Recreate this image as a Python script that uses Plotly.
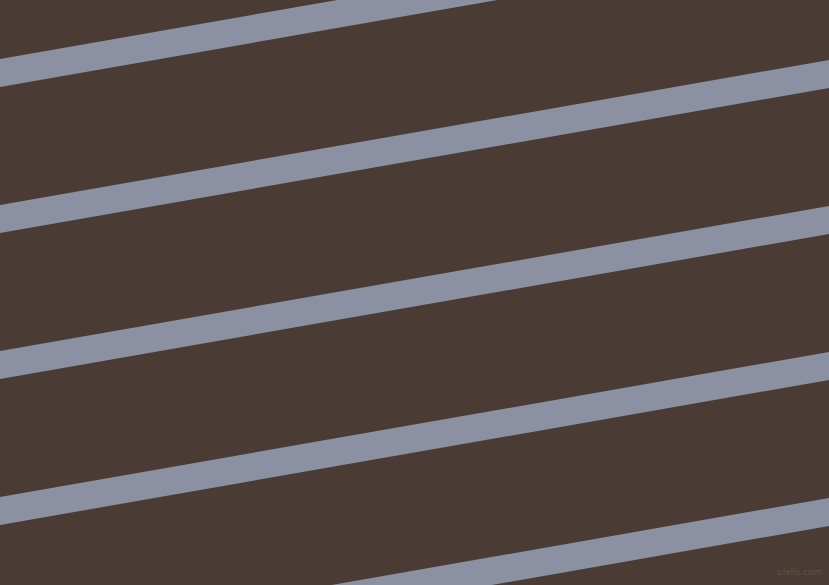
import plotly.graph_objects as go

W, H = 829, 585

# stripe centre heights where each band meets the left (x=0) and right (x=829) edges
stripe_left_y = [73, 219, 365, 511, 657]
stripe_right_y = [-72, 74, 220, 366, 512]
stripe_thick = 28

bg_color = "#4a3c34"
stripe_color = "#8b91a3"

fig = go.Figure()
for yl, yr in zip(stripe_left_y, stripe_right_y):
    h = stripe_thick / 2
    fig.add_trace(go.Scatter(
        x=[0, W, W, 0, 0],
        y=[yl - h, yr - h, yr + h, yl + h, yl - h],
        mode="lines", fill="toself", fillcolor=stripe_color,
        line=dict(width=0, color=stripe_color),
        hoverinfo="skip", showlegend=False))

fig.add_annotation(
    x=W - 5, y=H - 6, xref="x", yref="y", text="pixlis.com",
    showarrow=False, xanchor="right", yanchor="bottom",
    font=dict(family="DejaVu Sans", size=9, color="#5e5149"))

fig.update_xaxes(range=[0, W], visible=False, fixedrange=True)
fig.update_yaxes(range=[H, 0], visible=False, fixedrange=True)
fig.update_layout(
    width=W, height=H, autosize=False,
    margin=dict(l=0, r=0, t=0, b=0, pad=0),
    paper_bgcolor=bg_color, plot_bgcolor=bg_color)

# drop the browser's default body margin so the figure fills the window
fig.write_html("out.html", config={"displayModeBar": False},
               post_script="document.body.style.margin='0';"
                           "document.body.style.background='#4a3c34';")
